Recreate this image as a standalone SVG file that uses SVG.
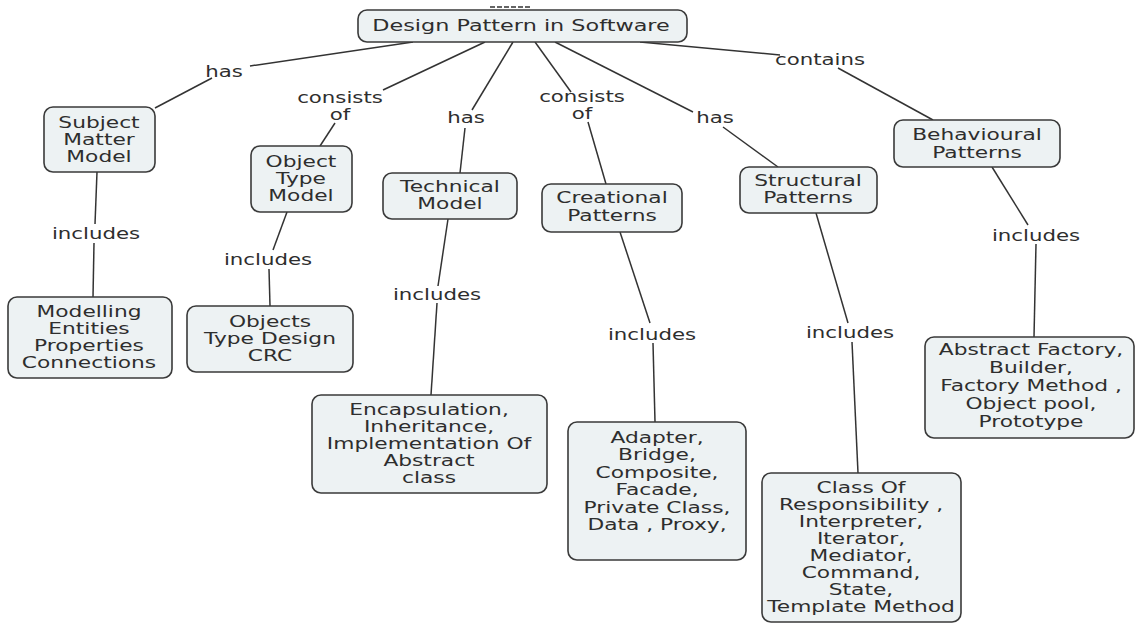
<svg xmlns="http://www.w3.org/2000/svg" width="1136" height="625" viewBox="0 0 1136 625">
<style>
.n rect{fill:#edf2f3;stroke:#3a3a3a;stroke-width:1.6}
text{font-family:"DejaVu Sans","Verdana",sans-serif;font-size:15px;fill:#2e2e2e;text-anchor:middle}
.c line{stroke:#333;stroke-width:1.5}
</style>
<rect width="1136" height="625" fill="#fff"/>
<line x1="490" y1="7" x2="532" y2="7" stroke="#333" stroke-width="1.5" stroke-dasharray="5 2"/>
<g class="c" id="connectors">
<line x1="413" y1="42" x2="250" y2="66"/>
<line x1="212" y1="78" x2="155" y2="108"/>
<line x1="485" y1="42" x2="383" y2="90"/>
<line x1="335" y1="123" x2="320" y2="146"/>
<line x1="513" y1="42" x2="472" y2="110"/>
<line x1="465" y1="128" x2="460" y2="173"/>
<line x1="535" y1="42" x2="571" y2="92"/>
<line x1="588" y1="122" x2="606" y2="184"/>
<line x1="555" y1="42" x2="693" y2="112"/>
<line x1="723" y1="127" x2="778" y2="167"/>
<line x1="640" y1="42" x2="780" y2="55"/>
<line x1="838" y1="68" x2="933" y2="120"/>
<line x1="97" y1="172" x2="95" y2="224"/>
<line x1="94" y1="243" x2="93" y2="297"/>
<line x1="287" y1="212" x2="273" y2="250"/>
<line x1="269" y1="269" x2="270" y2="306"/>
<line x1="448" y1="219" x2="438" y2="286"/>
<line x1="437" y1="303" x2="431" y2="395"/>
<line x1="620" y1="232" x2="650" y2="323"/>
<line x1="653" y1="343" x2="655" y2="422"/>
<line x1="816" y1="213" x2="848" y2="323"/>
<line x1="852" y1="342" x2="858" y2="473"/>
<line x1="992" y1="167" x2="1028" y2="225"/>
<line x1="1036" y1="244" x2="1034" y2="337"/>
</g>
<g id="labels">
<text transform="translate(224,77) scale(1.42,1)">has</text>
<text transform="translate(340,103) scale(1.42,1)"><tspan x="0">consists</tspan><tspan x="0" dy="17">of</tspan></text>
<text transform="translate(466,123) scale(1.42,1)">has</text>
<text transform="translate(582,102) scale(1.42,1)"><tspan x="0">consists</tspan><tspan x="0" dy="17">of</tspan></text>
<text transform="translate(715,123) scale(1.42,1)">has</text>
<text transform="translate(820,65) scale(1.42,1)">contains</text>
<text transform="translate(96,239) scale(1.42,1)">includes</text>
<text transform="translate(268,265) scale(1.42,1)">includes</text>
<text transform="translate(437,300) scale(1.42,1)">includes</text>
<text transform="translate(652,340) scale(1.42,1)">includes</text>
<text transform="translate(850,338) scale(1.42,1)">includes</text>
<text transform="translate(1036,241) scale(1.42,1)">includes</text>
</g>
<g class="n" id="root"><rect x="358" y="10" width="329" height="32" rx="9"/><text transform="translate(521,31) scale(1.49,1)">Design Pattern in Software</text></g>
<g class="n" id="subject"><rect x="44" y="107" width="111" height="65" rx="9"/><text transform="translate(99,128) scale(1.45,1)"><tspan x="0">Subject</tspan><tspan x="0" dy="17">Matter</tspan><tspan x="0" dy="17">Model</tspan></text></g>
<g class="n" id="objecttype"><rect x="251" y="146" width="101" height="66" rx="9"/><text transform="translate(301,167) scale(1.45,1)"><tspan x="0">Object</tspan><tspan x="0" dy="17">Type</tspan><tspan x="0" dy="17">Model</tspan></text></g>
<g class="n" id="modelling"><rect x="8" y="297" width="164" height="81" rx="9"/><text transform="translate(89,317) scale(1.45,1)"><tspan x="0">Modelling</tspan><tspan x="0" dy="17">Entities</tspan><tspan x="0" dy="17">Properties</tspan><tspan x="0" dy="17">Connections</tspan></text></g>
<g class="n" id="objects"><rect x="187" y="306" width="166" height="66" rx="9"/><text transform="translate(270,327) scale(1.45,1)"><tspan x="0">Objects</tspan><tspan x="0" dy="17">Type Design</tspan><tspan x="0" dy="17">CRC</tspan></text></g>
<g class="n" id="technical"><rect x="383" y="173" width="134" height="46" rx="9"/><text transform="translate(450,192) scale(1.45,1)"><tspan x="0">Technical</tspan><tspan x="0" dy="17">Model</tspan></text></g>
<g class="n" id="encap"><rect x="312" y="395" width="235" height="98" rx="9"/><text transform="translate(429,415) scale(1.45,1)"><tspan x="0">Encapsulation,</tspan><tspan x="0" dy="17">Inheritance,</tspan><tspan x="0" dy="17">Implementation Of</tspan><tspan x="0" dy="17">Abstract</tspan><tspan x="0" dy="17">class</tspan></text></g>
<g class="n" id="creational"><rect x="542" y="184" width="140" height="48" rx="9"/><text transform="translate(612,203) scale(1.45,1)"><tspan x="0">Creational</tspan><tspan x="0" dy="18">Patterns</tspan></text></g>
<g class="n" id="structural"><rect x="740" y="167" width="137" height="46" rx="9"/><text transform="translate(808,186) scale(1.45,1)"><tspan x="0">Structural</tspan><tspan x="0" dy="17">Patterns</tspan></text></g>
<g class="n" id="adapter"><rect x="568" y="422" width="178" height="138" rx="9"/><text transform="translate(657,443) scale(1.45,1)"><tspan x="0">Adapter,</tspan><tspan x="0" dy="17.4">Bridge,</tspan><tspan x="0" dy="17.4">Composite,</tspan><tspan x="0" dy="17.4">Facade,</tspan><tspan x="0" dy="17.4">Private Class,</tspan><tspan x="0" dy="17.4">Data , Proxy,</tspan></text></g>
<g class="n" id="classof"><rect x="762" y="473" width="199" height="149" rx="9"/><text transform="translate(861,493) scale(1.45,1)"><tspan x="0">Class Of</tspan><tspan x="0" dy="17">Responsibility ,</tspan><tspan x="0" dy="17">Interpreter,</tspan><tspan x="0" dy="17">Iterator,</tspan><tspan x="0" dy="17">Mediator,</tspan><tspan x="0" dy="17">Command,</tspan><tspan x="0" dy="17">State,</tspan><tspan x="0" dy="17">Template Method</tspan></text></g>
<g class="n" id="behavioural"><rect x="894" y="120" width="166" height="47" rx="9"/><text transform="translate(977,140) scale(1.45,1)"><tspan x="0">Behavioural</tspan><tspan x="0" dy="18">Patterns</tspan></text></g>
<g class="n" id="abstract"><rect x="925" y="337" width="209" height="101" rx="9"/><text transform="translate(1031,355) scale(1.45,1)"><tspan x="0">Abstract Factory,</tspan><tspan x="0" dy="18">Builder,</tspan><tspan x="0" dy="18">Factory Method ,</tspan><tspan x="0" dy="18">Object pool,</tspan><tspan x="0" dy="18">Prototype</tspan></text></g>
</svg>
